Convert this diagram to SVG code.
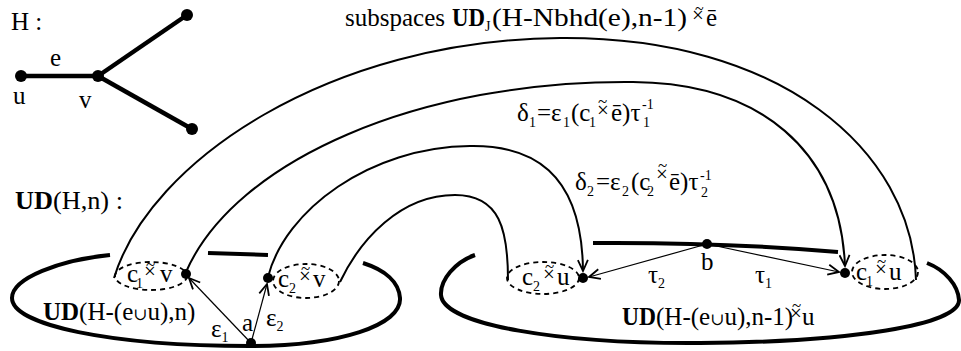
<svg xmlns="http://www.w3.org/2000/svg" width="961" height="351" viewBox="0 0 961 351" font-family="'Liberation Serif','Times New Roman',serif">
<style>
text{font-family:"Liberation Serif","DejaVu Serif","Times New Roman",serif;font-size:25px;fill:#000}
.b{font-weight:bold}
.s{font-size:14px}
.x{font-size:21px}
.t{font-size:17px}
.cup{font-size:17px}
.thick{fill:none;stroke:#000;stroke-width:4}
.arc{fill:none;stroke:#000;stroke-width:2}
.thin{fill:none;stroke:#000;stroke-width:1.2}
.dash{fill:none;stroke:#000;stroke-width:1.8;stroke-dasharray:5 4}
.edge{stroke:#000;stroke-width:4.5}
</style>
<defs>
<marker id="ah" markerWidth="14" markerHeight="12" refX="12" refY="6" orient="auto" markerUnits="userSpaceOnUse">
<path d="M1,1 L12,6 L1,11" fill="none" stroke="#000" stroke-width="1.8"/>
</marker>
</defs>

<g id="graphH">
<text x="11" y="30">H :</text>
<line class="edge" x1="21" y1="76" x2="98" y2="76"/>
<line class="edge" x1="98" y1="76" x2="187" y2="15"/>
<line class="edge" x1="98" y1="76" x2="192" y2="129"/>
<circle cx="21" cy="76" r="6"/>
<circle cx="98" cy="76" r="6"/>
<circle cx="187" cy="15" r="6"/>
<circle cx="192" cy="129" r="6"/>
<text x="50" y="66">e</text>
<text x="13" y="104">u</text>
<text x="79" y="108">v</text>
</g>

<g id="title">
<text><tspan x="345" y="26">subspaces </tspan><tspan class="b" x="452" y="26" textLength="33" lengthAdjust="spacingAndGlyphs">UD</tspan><tspan class="s" x="485" y="31">J</tspan><tspan x="492" y="26" textLength="195" lengthAdjust="spacingAndGlyphs">(H-Nbhd(e),n-1)</tspan><tspan class="x" x="692" y="22">×</tspan><tspan style="font-size:16px" x="695" y="14">~</tspan><tspan x="706" y="26">ē</tspan></text>
</g>

<g id="udhn">
<text x="15" y="209" textLength="108" lengthAdjust="spacingAndGlyphs"><tspan class="b">UD</tspan>(H,n) :</text>
</g>

<g id="regionLeft">
<path class="thick" d="M110,255 C60,260 12,278 12,298 C12,325 110,346 250,346 C340,346 402,325 400,298 C399,282 385,270 363,263"/>
<path class="thick" d="M208,253 L268,255"/>
<text><tspan class="b" x="43" y="320">UD</tspan><tspan>(H-(e</tspan><tspan class="cup">∪</tspan><tspan>u),n)</tspan></text>
</g>

<g id="regionRight">
<path class="thick" d="M475,255 C455,262 440,280 441,295 C443,325 560,344 700,343 C850,342 960,325 959,300 C958,285 945,270 927,263"/>
<path class="thick" d="M593,243 Q720,242 838,252"/>
<text><tspan x="622" y="325" class="b" textLength="34" lengthAdjust="spacingAndGlyphs">UD</tspan><tspan x="656" y="325">(H-(e</tspan><tspan class="cup">∪</tspan><tspan>u),n-1)</tspan><tspan class="x" x="790" y="320">×</tspan><tspan class="t" x="792" y="311">~</tspan><tspan x="802" y="325">u</tspan></text>
</g>

<g id="cell-c1v">
<ellipse class="dash" cx="151" cy="276" rx="36" ry="14"/>
<text><tspan x="127" y="282">c</tspan><tspan class="s" x="136" y="288">1</tspan><tspan class="x" x="144" y="278">×</tspan><tspan class="t" x="146" y="270">~</tspan><tspan x="160" y="282">v</tspan></text>
<circle cx="186" cy="274" r="5"/>
</g>

<g id="cell-c2v">
<ellipse class="dash" cx="306" cy="281" rx="33" ry="17"/>
<text><tspan x="278" y="287">c</tspan><tspan class="s" x="289" y="293">2</tspan><tspan class="x" x="299" y="283">×</tspan><tspan class="t" x="301" y="274">~</tspan><tspan x="313" y="287">v</tspan></text>
<circle cx="268" cy="278" r="5"/>
</g>

<g id="cell-c2u">
<ellipse class="dash" cx="543" cy="278" rx="36" ry="16"/>
<text><tspan x="522" y="285">c</tspan><tspan class="s" x="533" y="291">2</tspan><tspan class="x" x="543" y="281">×</tspan><tspan class="t" x="545" y="272">~</tspan><tspan x="557" y="285">u</tspan></text>
<circle cx="583" cy="278" r="5"/>
</g>

<g id="cell-c1u">
<ellipse class="dash" cx="885" cy="272" rx="33" ry="17"/>
<text><tspan x="856" y="280">c</tspan><tspan class="s" x="866" y="286">1</tspan><tspan class="x" x="875" y="276">×</tspan><tspan class="t" x="877" y="267">~</tspan><tspan x="889" y="280">u</tspan></text>
<circle cx="845" cy="273" r="5"/>
</g>

<g id="point-a">
<circle cx="251" cy="343" r="5"/>
<text x="242" y="331">a</text>
</g>

<g id="point-b">
<circle cx="707" cy="244" r="5"/>
<text x="701" y="270">b</text>
</g>

<g id="connectors">
<path class="arc" d="M114,278 C150,160 330,40 560,38 C780,36 912,150 916,280"/>
<path class="arc" d="M186,272 C235,160 420,80 633,82 C760,83 840,150 845,266" marker-end="url(#ah)"/>
<path class="arc" d="M268,277 C285,210 370,147 470,146 C530,145 582,170 583,271" marker-end="url(#ah)"/>
<path class="arc" d="M340,282 C360,240 400,195 455,195 C500,195 508,230 508,280"/>
<path class="thin" d="M251,343 L189,278" marker-end="url(#ah)"/>
<path class="thin" d="M251,343 L267,284" marker-end="url(#ah)"/>
<path class="thin" d="M707,244 L589,277" marker-end="url(#ah)"/>
<path class="thin" d="M707,244 L839,272" marker-end="url(#ah)"/>
</g>

<g id="labels">
<text><tspan x="211" y="337">ε</tspan><tspan class="s" y="342">1</tspan></text>
<text><tspan x="266" y="326">ε</tspan><tspan class="s" y="331">2</tspan></text>
<text><tspan x="648" y="283">τ</tspan><tspan class="s" y="288">2</tspan></text>
<text><tspan x="755" y="283">τ</tspan><tspan class="s" y="288">1</tspan></text>
<text><tspan x="517" y="121">δ</tspan><tspan class="s" x="529" y="127">1</tspan><tspan x="537" y="121">=ε</tspan><tspan class="s" x="563" y="127">1</tspan><tspan x="571" y="121">(c</tspan><tspan class="s" x="589" y="127">1</tspan><tspan class="x" x="597" y="117">×</tspan><tspan class="t" x="598" y="107">~</tspan><tspan x="611" y="121">ē)τ</tspan><tspan class="s" x="643" y="127">1</tspan><tspan class="s" x="642" y="109">-1</tspan></text>
<text><tspan x="575" y="190">δ</tspan><tspan class="s" x="587" y="196">2</tspan><tspan x="596" y="190">=ε</tspan><tspan class="s" x="622" y="196">2</tspan><tspan x="631" y="190">(c</tspan><tspan class="s" x="647" y="196">2</tspan><tspan class="x" x="656" y="181">×</tspan><tspan class="t" x="658" y="171">~</tspan><tspan x="669" y="190">ē)τ</tspan><tspan class="s" x="701" y="197">2</tspan><tspan class="s" x="700" y="180">-1</tspan></text>
</g>
</svg>
